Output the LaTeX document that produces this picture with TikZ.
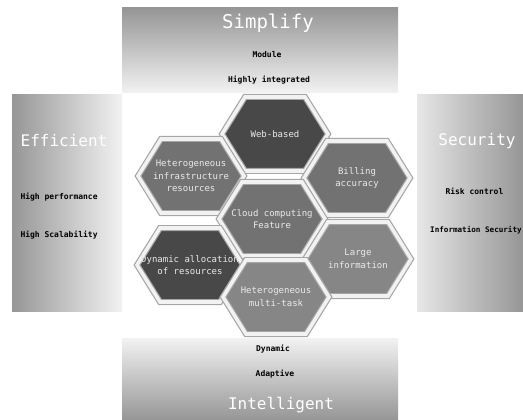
\documentclass[tikz,border=0pt]{standalone}
\usepackage{fontspec}
\setmonofont{DejaVu Sans Mono}
\definecolor{hexdark}{RGB}{72,72,72}
\definecolor{hexmid}{RGB}{114,114,114}
\definecolor{hexpale}{RGB}{134,134,134}
\definecolor{panelgray}{RGB}{150,150,150}
\definecolor{panelpale}{RGB}{242,242,242}
% one cell of the honeycomb: name, x, y, fill, label
\newcommand{\hexcell}[5]{%
  \draw[hexrim,fill=#4] (#2,#3) ++(-53,0) -- ++(23,-37) -- ++(60,0) -- ++(23,37)
    -- ++(-23,37) -- ++(-60,0) -- cycle;
  \node[hexlabel] (#1) at (#2,#3) {#5};
}

\begin{document}
\begin{tikzpicture}[x=1pt,y=-1pt,
  title/.style={text=white,font=\ttfamily\fontsize{16}{16}\selectfont},
  item/.style={font=\ttfamily\bfseries\fontsize{8}{9}\selectfont},
  hexrim/.style={draw=gray!70,double=gray!10,double distance=3.6pt,line width=1.2pt},
  hexlabel/.style={text=white!92!black,align=center,font=\ttfamily\fontsize{9}{12.5}\selectfont}]
\useasboundingbox (0,0) rectangle (523,420);
\shade[top color=panelgray,bottom color=panelpale] (122,8) rectangle (398,93); % top
\shade[left color=panelgray,right color=panelpale] (12,95) rectangle (122,311); % left
\shade[left color=panelpale!90!gray,right color=panelgray] (417,95) rectangle (523,311); % right
\shade[top color=panelpale,bottom color=panelgray] (122,338) rectangle (398,420); % bottom
\node[title,font=\ttfamily\fontsize{19}{19}\selectfont] (simplify) at (268,23) {Simplify};
\node[item] (module) at (267,55) {Module};
\node[item] (integrated) at (269,80) {Highly integrated};
\node[title] (efficient) at (64,141) {Efficient};
\node[item,anchor=west] (perf) at (17,197) {High performance};
\node[item,anchor=west] (scal) at (17,235) {High Scalability};
\node[title] (security) at (477,141) {Security};
\node[item,anchor=west] (risk) at (442,191) {Risk control};
\node[item,anchor=west,inner sep=0pt,font=\ttfamily\bfseries\fontsize{7.6}{9}\selectfont]
  (infosec) at (430,230) {Information Security};
\node[item] (dynamic) at (273,349) {Dynamic};
\node[item] (adaptive) at (275,374) {Adaptive};
\node[title] (intelligent) at (281,405) {Intelligent};
% honeycomb
\hexcell{web}{275}{134}{hexdark}{Web-based}
\hexcell{infra}{191}{176}{hexmid}{Heterogeneous\\infrastructure\\resources}
\hexcell{billing}{357}{178}{hexmid}{Billing\\accuracy}
\hexcell{cloud}{272}{219}{hexmid}{Cloud computing\\Feature}
\hexcell{alloc}{190}{265}{hexdark}{Dynamic allocation\\of resources}
\hexcell{large}{358}{259}{hexpale}{Large\\information}
\hexcell{multi}{276}{297}{hexpale}{Heterogeneous\\multi-task}
\end{tikzpicture}
\end{document}
